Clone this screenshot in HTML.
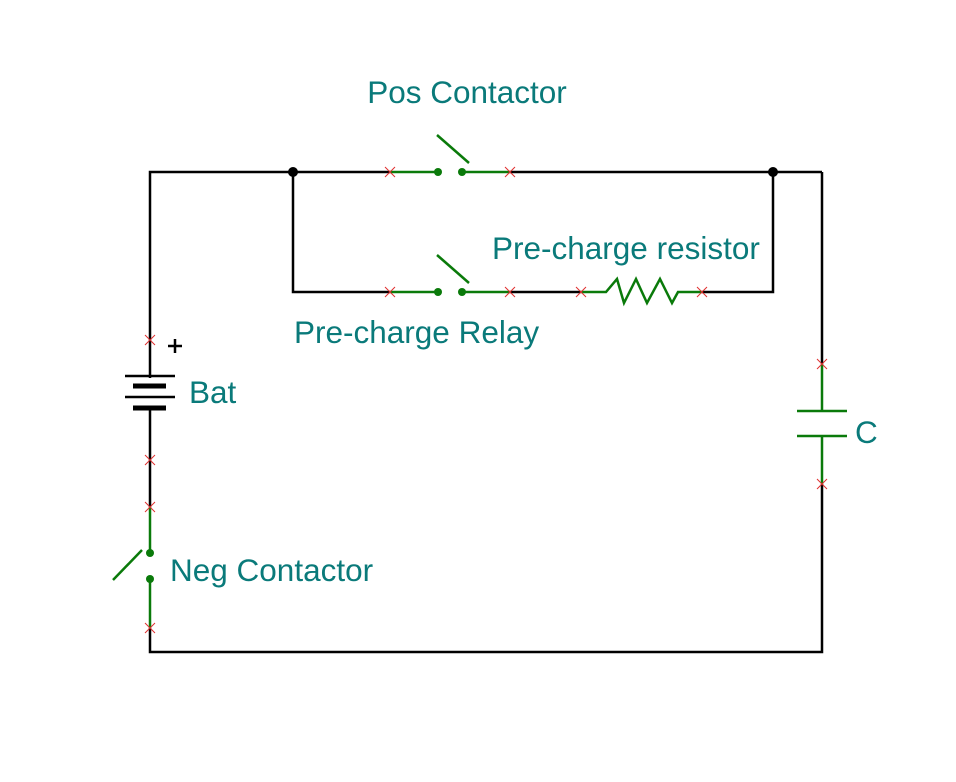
<!DOCTYPE html>
<html><head><style>body{margin:0;background:#fff}svg{display:block}</style></head><body>
<svg width="956" height="782" viewBox="0 0 956 782" xmlns="http://www.w3.org/2000/svg">
<g stroke="#000" stroke-width="2.5" fill="none">
<polyline points="150,378 150,172 390,172"/>
<line x1="510" y1="172" x2="822" y2="172"/>
<line x1="822" y1="172" x2="822" y2="364"/>
<polyline points="822,484 822,652 150,652 150,628"/>
<line x1="150" y1="408" x2="150" y2="507"/>
<polyline points="293,172 293,292 390,292"/>
<line x1="510" y1="292" x2="581" y2="292"/>
<polyline points="702,292 773,292 773,172"/>
<line x1="125" y1="376" x2="175" y2="376"/>
<line x1="125" y1="397" x2="175" y2="397"/>
<line x1="133" y1="386" x2="166" y2="386" stroke-width="5"/>
<line x1="133" y1="408" x2="166" y2="408" stroke-width="5"/>
<line x1="168" y1="346" x2="182" y2="346" stroke-width="2.5"/>
<line x1="175" y1="339" x2="175" y2="353" stroke-width="2.5"/>
</g>
<circle cx="293" cy="172" r="5" fill="#000"/>
<circle cx="773" cy="172" r="5" fill="#000"/>
<g stroke="#0a7a0a" stroke-width="2.5" fill="none">
<line x1="390" y1="172" x2="438" y2="172"/><line x1="462" y1="172" x2="510" y2="172"/>
<line x1="437" y1="135" x2="469" y2="163"/>
<line x1="390" y1="292" x2="438" y2="292"/><line x1="462" y1="292" x2="510" y2="292"/>
<line x1="437" y1="255" x2="469" y2="283"/>
<polyline points="581,292 606,292 617,279 624,303 636,279 647,303 660,279 672,303 678,292 702,292"/>
<line x1="150" y1="507" x2="150" y2="553"/><line x1="150" y1="579" x2="150" y2="628"/>
<line x1="113" y1="580" x2="142" y2="550"/>
<line x1="822" y1="364" x2="822" y2="411"/><line x1="822" y1="436" x2="822" y2="484"/>
<line x1="797" y1="411" x2="847" y2="411"/><line x1="797" y1="436" x2="847" y2="436"/>
</g>
<g fill="#0a7a0a">
<circle cx="438" cy="172" r="4"/><circle cx="462" cy="172" r="4"/>
<circle cx="438" cy="292" r="4"/><circle cx="462" cy="292" r="4"/>
<circle cx="150" cy="553" r="4"/><circle cx="150" cy="579" r="4"/>
</g>
<g stroke="#e03030" stroke-width="1">
<path d="M385 167l10 10M395 167l-10 10"/><path d="M505 167l10 10M515 167l-10 10"/>
<path d="M385 287l10 10M395 287l-10 10"/><path d="M505 287l10 10M515 287l-10 10"/>
<path d="M576 287l10 10M586 287l-10 10"/><path d="M697 287l10 10M707 287l-10 10"/>
<path d="M145 335l10 10M155 335l-10 10"/><path d="M145 455l10 10M155 455l-10 10"/>
<path d="M145 502l10 10M155 502l-10 10"/><path d="M145 623l10 10M155 623l-10 10"/>
<path d="M817 359l10 10M827 359l-10 10"/><path d="M817 479l10 10M827 479l-10 10"/>
</g>
<g fill="#0a7a7a" font-family="Liberation Sans, sans-serif" font-size="31.5">
<text x="467" y="103" text-anchor="middle">Pos Contactor</text>
<text x="492" y="259">Pre-charge resistor</text>
<text x="294" y="343">Pre-charge Relay</text>
<text x="189" y="403">Bat</text>
<text x="170" y="581">Neg Contactor</text>
<text x="855" y="443">C</text>
</g>
</svg>
</body></html>
